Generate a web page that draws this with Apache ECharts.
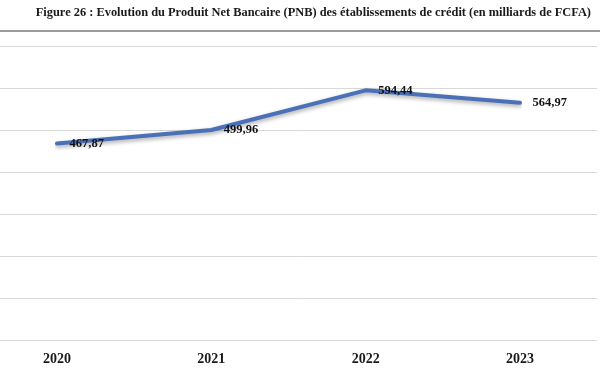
<!DOCTYPE html>
<html><head><meta charset="utf-8">
<script src="https://cdn.jsdelivr.net/npm/echarts@6/dist/echarts.min.js"></script>
<style>html,body{margin:0;padding:0;background:#fff}#c{width:600px;height:372px}</style>
</head><body><div id="c"></div>
<script>
var titleText = "Figure 26 : Evolution du Produit Net Bancaire (PNB) des établissements de crédit (en milliards de FCFA)";
var years = ["2020", "2021", "2022", "2023"];
var pnb = [467.87, 499.96, 594.44, 564.97];
var yMin = 0, yMax = 700, yStep = 100;

var chart = echarts.init(document.getElementById('c'));
chart.setOption({
  animation: false,
  backgroundColor: '#fff',
  title: {
    text: titleText, right: 4, top: 2,
    textStyle: {fontFamily: 'Liberation Serif', fontWeight: 'bold', fontSize: 12.4, color: '#1a1a1a'}
  },
  graphic: [{type: 'line', shape: {x1: 0, y1: 31, x2: 600, y2: 31}, style: {stroke: '#3a3a3a', lineWidth: 1.2}}],
  grid: [
    {left: 0, top: 46, right: 3, height: 294},
    {left: 57, top: 46, right: 80, height: 294}
  ],
  xAxis: [
    {gridIndex: 0, type: 'value', min: 0, max: 1, show: false},
    {gridIndex: 1, type: 'category', data: years, boundaryGap: false,
      axisLine: {show: false}, axisTick: {show: false}, splitLine: {show: false},
      axisLabel: {margin: 12, fontFamily: 'Liberation Serif', fontWeight: 'bold', fontSize: 14, color: '#1a1a1a'}}
  ],
  yAxis: [
    {gridIndex: 0, type: 'value', min: yMin, max: yMax, interval: yStep,
      axisLabel: {show: false}, axisLine: {show: false}, axisTick: {show: false},
      splitLine: {lineStyle: {color: '#d9d9d9', width: 1}}},
    {gridIndex: 1, type: 'value', min: yMin, max: yMax, interval: yStep, show: false,
      splitLine: {show: false}}
  ],
  series: [{
    type: 'line', xAxisIndex: 1, yAxisIndex: 1, data: pnb,
    symbol: 'circle', symbolSize: 1, showSymbol: true,
    itemStyle: {color: 'rgba(0,0,0,0)'},
    lineStyle: {color: '#4a70b7', width: 4, cap: 'round', join: 'round',
      shadowColor: 'rgba(0,0,0,0.35)', shadowBlur: 4, shadowOffsetY: 2},
    label: {show: true, position: 'right', distance: 12,
      fontFamily: 'Liberation Serif', fontWeight: 'bold', fontSize: 12.5, color: '#111',
      formatter: function(p){ return p.value.toFixed(2).replace('.', ','); }}
  }]
});
</script></body></html>
